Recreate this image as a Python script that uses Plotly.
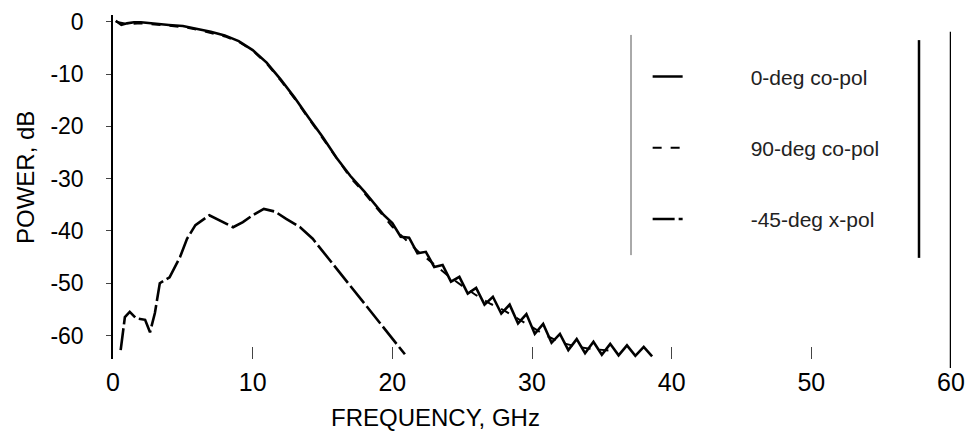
import plotly.graph_objects as go

# ---- data ----
freq_0deg = [0.2, 0.6, 1.0, 1.5, 2.0, 3.0, 4.0, 5.0, 6.0, 7.0, 8.0, 9.0, 10.0, 11.0, 12.0,
             13.0, 14.0, 15.0, 16.0, 17.0, 18.0, 19.0, 19.4,
             20.0, 20.6, 21.2, 21.8, 22.4, 23.0, 23.6, 24.2, 24.8, 25.4, 26.0, 26.6, 27.2,
             27.8, 28.4, 29.0, 29.6, 30.2, 30.8, 31.4, 32.0, 32.6, 33.2, 33.8, 34.4, 35.0,
             35.6, 36.2, 36.8, 37.4, 38.0, 38.6]
power_0deg = [0.2, -0.6, -0.3, -0.1, -0.1, -0.4, -0.6, -0.8, -1.3, -1.9, -2.6, -3.7, -5.4, -7.8, -11.0,
              -14.5, -18.3, -22.0, -26.0, -29.5, -32.5, -35.8, -37.0,
              -38.5, -41.1, -41.3, -44.3, -44.0, -46.9, -46.5, -49.7, -48.8, -52.0, -50.9, -54.1, -52.6,
              -55.8, -54.1, -57.7, -55.9, -59.7, -57.8, -61.4, -59.7, -62.8, -60.7, -63.4, -61.2, -63.7,
              -61.6, -63.8, -61.9, -63.9, -62.2, -64.0]

freq_90deg = [0.2, 1, 2, 3, 4, 5, 6, 7, 8, 9, 10, 11, 12, 13, 14, 15, 16, 17, 18, 19, 20,
              21, 22, 23, 24, 25, 26, 27, 28, 29, 30, 31, 32, 33, 34, 35, 36]
power_90deg = [0.0, -0.4, -0.3, -0.5, -0.8, -1.0, -1.5, -2.1, -2.8, -3.8, -5.5, -8.0, -11.2, -14.7,
               -18.5, -22.3, -26.2, -29.8, -32.8, -36.0, -39.2, -41.8, -44.3, -46.4, -48.6, -50.5,
               -52.3, -53.9, -55.2, -56.8, -58.4, -60.0, -61.3, -62.0, -62.5, -62.8, -63.0]

freq_xpol = [0.55, 0.85, 1.2, 1.65, 2.3, 2.65, 3.0, 3.35, 4.05, 4.8, 5.3, 5.9, 6.9, 7.9, 8.6,
             9.3, 10.0, 10.8, 11.6, 12.4, 13.4, 14.3, 15.2, 16.2, 17.2, 18.2, 19.2, 20.2, 20.9]
power_xpol = [-62.8, -56.5, -55.5, -56.7, -57.0, -59.4, -55.7, -50.0, -48.9, -45.0, -41.5, -38.9,
              -37.0, -38.3, -39.3, -38.3, -37.0, -35.8, -36.3, -37.7, -39.3, -41.5, -44.5, -47.8,
              -51.2, -54.5, -57.8, -61.2, -63.6]

x_ticks = [0, 10, 20, 30, 40, 50, 60]
y_ticks = [0, -10, -20, -30, -40, -50, -60]

GAP = "\u2003\u2003\u2003"  # spacing between legend sample and label

fig = go.Figure()
fig.add_trace(go.Scatter(x=freq_0deg, y=power_0deg, mode="lines", name=GAP + "0-deg co-pol",
                         legendgroup="a", line=dict(color="black", width=2.6)))
fig.add_trace(go.Scatter(x=freq_90deg, y=power_90deg, mode="lines", name=GAP + "90-deg co-pol",
                         legendgroup="b", line=dict(color="black", width=2, dash="dash")))
fig.add_trace(go.Scatter(x=freq_xpol, y=power_xpol, mode="lines", name=GAP + "-45-deg x-pol",
                         legendgroup="c", line=dict(color="black", width=2.6, dash="22px,4px")))

fig.update_layout(
    width=971, height=437,
    margin=dict(l=113, r=20, t=15, b=78, autoexpand=False),
    paper_bgcolor="white", plot_bgcolor="white",
    font=dict(family="Liberation Sans, Arial, sans-serif", color="black"),
    showlegend=True,
    legend=dict(x=0.638, y=0.880, xanchor="left", yanchor="top",
                bgcolor="rgba(0,0,0,0)", borderwidth=0,
                font=dict(size=21, color="#222"),
                itemwidth=30, tracegroupgap=41, traceorder="grouped"),
    xaxis=dict(range=[0, 60], tickvals=x_ticks, ticktext=[str(v) for v in x_ticks],
               showgrid=False, zeroline=False, showline=False, automargin=False,
               ticks="inside", ticklen=12, tickcolor="#444", tickwidth=1,
               ticklabelstandoff=6, ticklabeloverflow="allow",
               tickfont=dict(size=25)),
    yaxis=dict(range=[-64.5, 1.3], tickvals=y_ticks, ticktext=[str(v) for v in y_ticks],
               showgrid=False, zeroline=False, showline=True, linecolor="black", linewidth=1.5,
               automargin=False,
               ticks="outside", ticklen=5, tickcolor="#444", tickwidth=1,
               ticklabelstandoff=18, tickfont=dict(size=23)),
    annotations=[
        dict(text="FREQUENCY, GHz", xref="paper", yref="paper",
             x=(435 - 113) / 838, y=-0.1715, xanchor="center", yanchor="middle",
             showarrow=False, font=dict(size=24)),
        dict(text="POWER, dB", xref="paper", yref="paper", textangle=-90,
             x=(26 - 113) / 838, y=1 - (178 - 15) / 344, xanchor="center", yanchor="middle",
             showarrow=False, font=dict(size=24)),
    ],
    shapes=[
        dict(type="line", xref="paper", yref="paper", x0=(631 - 113) / 838, x1=(631 - 113) / 838,
             y0=0.302, y1=0.942, line=dict(color="#555", width=1)),
        dict(type="line", xref="paper", yref="paper", x0=(919 - 113) / 838, x1=(919 - 113) / 838,
             y0=0.294, y1=0.927, line=dict(color="black", width=2.5)),
        dict(type="line", xref="x", yref="paper", x0=60, x1=60, y0=-0.026, y1=0.951,
             line=dict(color="black", width=2.5)),
    ],
)

fig.write_html("out.html", config={"displayModeBar": False},
               post_script="document.body.style.margin='0';document.body.style.overflow='hidden';")
